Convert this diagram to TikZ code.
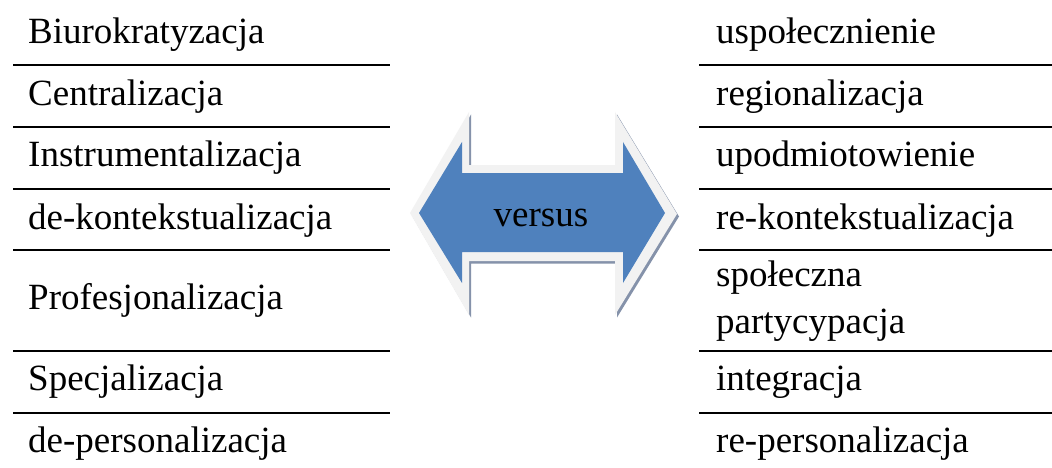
\documentclass[tikz,border=0pt]{standalone}
\usepackage{fontspec}
\setmainfont{Liberation Serif}
\definecolor{arrowblue}{HTML}{4F81BD}
\definecolor{arrowrim}{HTML}{F2F2F2}
\definecolor{arrowshade}{HTML}{8592AA}

\begin{document}
\begin{tikzpicture}[x=1pt, y=-1pt,
    cell/.style={anchor=base west, inner sep=0pt, font=\fontsize{37}{44}\selectfont},
    rule/.style={line width=2.2pt}]
    \fill[white] (0,0) rectangle (1052,468);
    \useasboundingbox (0,0) rectangle (1052,468);

    \begin{scope}
        % lewa kolumna
        \node[cell] (biu) at (28,44) {Biurokratyzacja};
        \node[cell] (cen) at (28,106) {Centralizacja};
        \node[cell] (ins) at (28,167) {Instrumentalizacja};
        \node[cell] (dekon) at (28,229) {de-kontekstualizacja};
        \node[cell] (pro) at (28,309) {Profesjonalizacja};
        \node[cell] (spe) at (28,390) {Specjalizacja};
        \node[cell] (deper) at (28,452) {de-personalizacja};

        % prawa kolumna
        \node[cell] (usp) at (716,44) {uspołecznienie};
        \node[cell] (reg) at (716,106) {regionalizacja};
        \node[cell] (upo) at (716,167) {upodmiotowienie};
        \node[cell] (rekon) at (716,229) {re-kontekstualizacja};
        \node[cell] (spo) at (716,286) {społeczna};
        \node[cell] (par) at (716,333) {partycypacja};
        \node[cell] (int) at (716,390) {integracja};
        \node[cell] (reper) at (716,452) {re-personalizacja};

        % linie tabeli
        \foreach \y in {65,127,189,250,351,413} {
            \draw[rule] (13,\y) -- (390,\y);
            \draw[rule] (699,\y) -- (1052,\y);
        }

        % strzalka
        \fill[arrowshade, shift={(2,2.5)}] (410,213) -- (469,112) -- (469,165) -- (615,165) -- (615,112) -- (677,214) -- (615,315) -- (615,261) -- (469,261) -- (469,315) -- cycle;
        \fill[arrowrim] (410,213) -- (469,112) -- (469,165) -- (615,165) -- (615,112) -- (677,214) -- (615,315) -- (615,261) -- (469,261) -- (469,315) -- cycle;
        \fill[arrowblue] (419,213) -- (462,142) -- (462,173) -- (623,173) -- (623,142) -- (665,213) -- (623,283) -- (623,252) -- (462,252) -- (462,283) -- cycle;

        \node[anchor=base, inner sep=0pt, font=\fontsize{37}{44}\selectfont] (vs) at (541,226) {versus};
    \end{scope}
\end{tikzpicture}
\end{document}
